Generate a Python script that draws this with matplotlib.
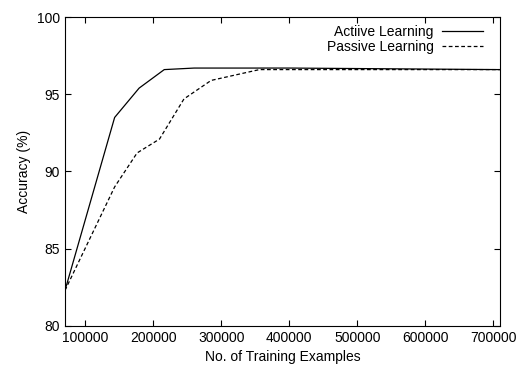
import matplotlib
matplotlib.use('Agg')
import matplotlib.pyplot as plt

plt.rcParams['font.family'] = ['Liberation Sans', 'DejaVu Sans']

# Data
active_x = [70000, 143000, 179000, 216000, 260000, 400000, 710000]
active_y = [82.3, 93.5, 95.4, 96.6, 96.7, 96.7, 96.6]
passive_x = [70000, 143000, 176000, 209000, 245000, 285000, 356000, 450000, 710000]
passive_y = [82.3, 89.0, 91.2, 92.1, 94.7, 95.9, 96.6, 96.6, 96.6]

x_ticks = [100000, 200000, 300000, 400000, 500000, 600000, 700000]
y_ticks = [80, 85, 90, 95, 100]

fig = plt.figure(figsize=(5.16, 3.72), dpi=100)
ax = fig.add_axes([0.126, 0.124, 0.843, 0.830])

ax.plot(active_x, active_y, color='black', linewidth=0.9, label='Actiive Learning')
ax.plot(passive_x, passive_y, color='black', linewidth=0.9, linestyle=(0, (3, 2)),
        label='Passive Learning')

ax.set_xlim(70000, 710000)
ax.set_ylim(80, 100)
ax.set_xticks(x_ticks)
ax.set_yticks(y_ticks)
ax.set_xticklabels([str(t) for t in x_ticks])
ax.tick_params(direction='in', top=True, right=True, labelsize=10, length=4)

ax.set_xlabel('No. of Training Examples', fontsize=10)
ax.set_ylabel('Accuracy (%)', fontsize=10)

ax.legend(loc='upper right', bbox_to_anchor=(0.962, 0.975), frameon=False,
          markerfirst=False, fontsize=10, handlelength=3.0, handletextpad=0.6,
          labelspacing=0.1, borderaxespad=0, borderpad=0)

plt.savefig('out.png', dpi=100)
